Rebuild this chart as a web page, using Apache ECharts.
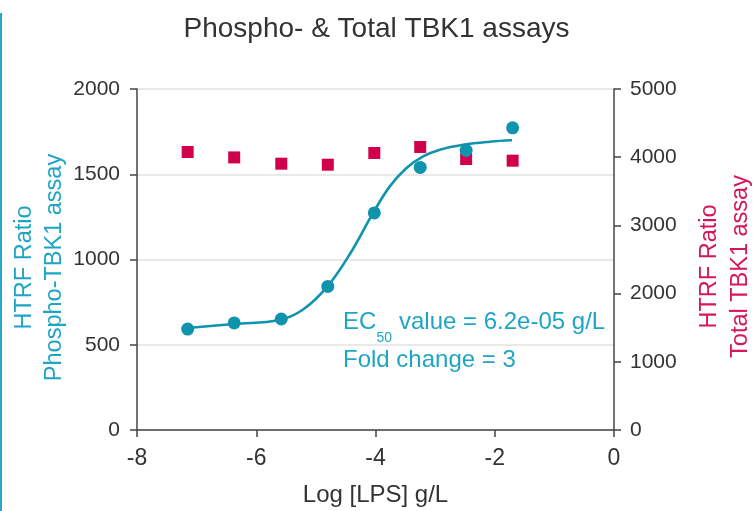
<!DOCTYPE html>
<html><head><meta charset="utf-8">
<script src="https://cdn.jsdelivr.net/npm/echarts@6/dist/echarts.min.js"></script>
<style>html,body{margin:0;padding:0;background:#fff}#c{width:753px;height:511px}</style>
</head><body><div id="c"></div>
<script>
const titleText = 'Phospho- & Total TBK1 assays';
const xAxisName = 'Log [LPS] g/L';
const leftAxisName = 'HTRF Ratio\nPhospho-TBK1 assay';
const rightAxisName = 'HTRF Ratio\nTotal TBK1 assay';
const xTicks = [-8, -6, -4, -2, 0];
const leftTicks = [0, 500, 1000, 1500, 2000];
const rightTicks = [0, 1000, 2000, 3000, 4000, 5000];

// measured points
const logConc = [-7.15, -6.37, -5.58, -4.80, -4.02, -3.25, -2.48, -1.70];
const phosphoRatio = [592, 628, 651, 842, 1273, 1540, 1640, 1772];
const totalRatio = [4076, 3997, 3905, 3890, 4062, 4150, 3974, 3949];

// fitted curve
const fitLogConc = [-7.15, -6.37, -5.61, -5.22, -4.82, -4.43, -4.04, -3.76, -3.48, -3.20, -2.92, -2.53, -2.08, -1.71];
const fitRatio = [598, 622, 645, 705, 836, 1032, 1273, 1429, 1537, 1605, 1644, 1673, 1691, 1699];

const ec50Label = 'value = 6.2e-05 g/L';
const foldLabel = 'Fold change = 3';

const FONT = 'Liberation Sans, Arial, sans-serif';
const CYAN = '#1093ad';
const CYAN_TXT = '#1fa5c4';
const RED = '#d1004b';
const RED_TXT = '#d5175a';
const AX = '#444';

const zip = (a, b) => a.map((v, i) => [v, b[i]]);
const plain = v => String(v);

const chart = echarts.init(document.getElementById('c'), null, {renderer: 'canvas'});
chart.setOption({
  animation: false,
  backgroundColor: '#fff',
  title: {
    text: titleText, left: 'center', top: 10,
    textStyle: {fontFamily: FONT, fontSize: 28, fontWeight: 'normal', color: '#333'}
  },
  grid: {left: 137, right: 139, top: 89, bottom: 81, containLabel: false, outerBoundsMode: 'none'},
  xAxis: {
    type: 'value', min: xTicks[0], max: xTicks[xTicks.length - 1], interval: 2,
    name: xAxisName, nameLocation: 'middle', nameGap: 53,
    nameTextStyle: {fontFamily: FONT, fontSize: 24, color: '#333'},
    axisLine: {show: true, onZero: false, lineStyle: {color: AX, width: 1.5}},
    axisTick: {show: true, length: 7, lineStyle: {color: AX, width: 1.5}},
    axisLabel: {fontFamily: FONT, fontSize: 23, color: '#333', margin: 17, formatter: plain},
    splitLine: {show: false}
  },
  yAxis: [{
    type: 'value', position: 'left', min: leftTicks[0], max: leftTicks[leftTicks.length - 1], interval: 500,
    name: leftAxisName, nameLocation: 'middle', nameGap: 67, nameMoveOverlap: false,
    nameTextStyle: {fontFamily: FONT, fontSize: 23.5, color: CYAN_TXT, lineHeight: 30, padding: [0, 16, 0, 0]},
    axisLine: {show: true, onZero: false, lineStyle: {color: AX, width: 1.5}},
    axisTick: {show: true, length: 7, lineStyle: {color: AX, width: 1.5}},
    axisLabel: {fontFamily: FONT, fontSize: 21, color: '#333', margin: 17, formatter: plain},
    splitLine: {show: true, lineStyle: {color: '#e2e2e2', width: 1.5}}
  }, {
    type: 'value', position: 'right', min: rightTicks[0], max: rightTicks[rightTicks.length - 1], interval: 1000,
    name: rightAxisName, nameLocation: 'middle', nameGap: 80, nameMoveOverlap: false,
    nameTextStyle: {fontFamily: FONT, fontSize: 23.5, color: RED_TXT, lineHeight: 31, padding: [0, 14, 0, 0]},
    axisLine: {show: true, onZero: false, lineStyle: {color: AX, width: 1.5}},
    axisTick: {show: true, length: 7, lineStyle: {color: AX, width: 1.5}},
    axisLabel: {fontFamily: FONT, fontSize: 21, color: '#333', margin: 16, formatter: plain},
    splitLine: {show: false}
  }],
  series: [{
    name: 'Total', type: 'scatter', yAxisIndex: 1, z: 2,
    symbol: 'rect', symbolSize: 12,
    itemStyle: {color: RED, opacity: 1},
    data: zip(logConc, totalRatio)
  }, {
    name: 'Fit', type: 'line', yAxisIndex: 0, z: 3,
    smooth: 0.4, showSymbol: false, symbol: 'none',
    lineStyle: {color: CYAN, width: 2.6},
    data: zip(fitLogConc, fitRatio)
  }, {
    name: 'Phospho', type: 'scatter', yAxisIndex: 0, z: 4,
    symbol: 'circle', symbolSize: 13,
    itemStyle: {color: CYAN, opacity: 1},
    data: zip(logConc, phosphoRatio)
  }],
  graphic: [
    {type: 'rect', left: 0, top: 13, shape: {width: 2, height: 498}, style: {fill: '#2aa7c6'}},
    {type: 'text', left: 343, top: 310, style: {text: 'EC', font: '24px ' + FONT, fill: CYAN_TXT}},
    {type: 'text', left: 376.5, top: 331, style: {text: '50', font: '14px ' + FONT, fill: CYAN_TXT}},
    {type: 'text', left: 399, top: 310, style: {text: ec50Label, font: '24px ' + FONT, fill: CYAN_TXT}},
    {type: 'text', left: 343, top: 348.5, style: {text: foldLabel, font: '24px ' + FONT, fill: CYAN_TXT}}
  ]
});
</script></body></html>
